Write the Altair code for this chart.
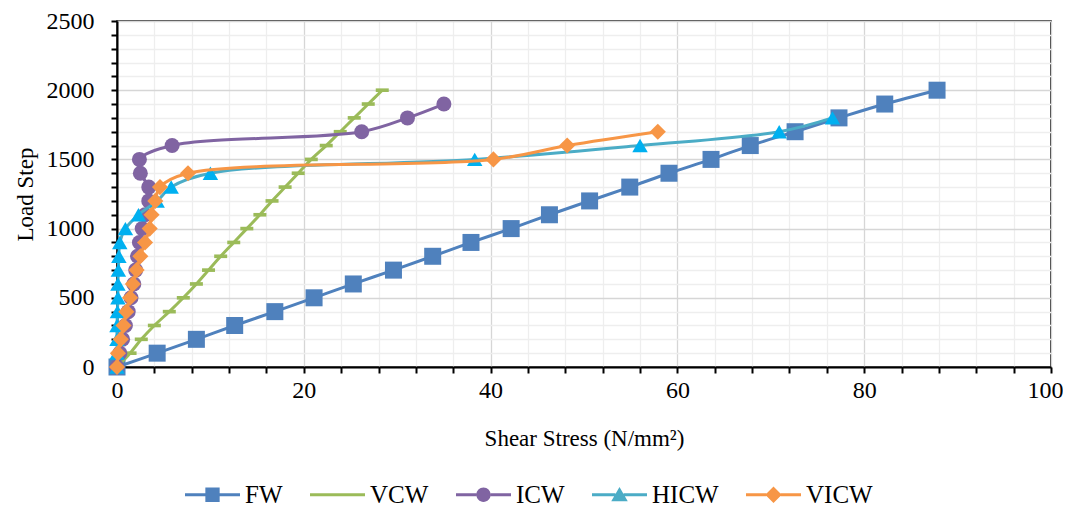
import altair as alt
import pandas as pd

# ---------------- data ----------------
series = ["FW", "VCW", "ICW", "HICW", "VICW"]
load_steps = [0, 100, 200, 300, 400, 500, 600, 700, 800, 900, 1000,
              1100, 1200, 1300, 1400, 1500, 1600, 1700, 1800, 1900, 2000]

fw = [0, 4.3, 8.5, 12.6, 16.9, 21.1, 25.3, 29.6, 33.8, 37.9, 42.2,
      46.3, 50.6, 54.9, 59.1, 63.6, 67.8, 72.6, 77.3, 82.2, 87.8]
vcw = [0, 1.4, 2.6, 4.0, 5.6, 7.1, 8.5, 9.8, 11.1, 12.5, 13.9,
       15.3, 16.6, 18.0, 19.4, 20.8, 22.4, 23.9, 25.4, 26.9, 28.4]
icw = [0, 0.3, 0.6, 0.9, 1.2, 1.5, 1.8, 2.0, 2.2, 2.4, 2.7,
       3.0, 3.4, 3.4, 2.5, 2.4, 5.9, 26.2, 31.1, 35.0]
hicw = [0, 0, 0, 0, 0.05, 0.1, 0.1, 0.15, 0.2, 0.3, 0.9,
        2.3, 4.3, 5.8, 10.0, 38.3, 56.0, 70.9, 76.6]
vicw = [0, 0.1, 0.4, 0.7, 1.0, 1.4, 1.7, 2.1, 2.5, 3.0, 3.5,
        3.7, 4.1, 4.6, 7.6, 40.3, 48.2, 57.9]

values = {"FW": fw, "VCW": vcw, "ICW": icw, "HICW": hicw, "VICW": vicw}

x_ticks = list(range(0, 101, 4))
y_ticks = list(range(0, 2501, 100))

# ---------------- styles ----------------
line_colors = ["#4F81BD", "#9BBB59", "#8064A2", "#4BACC6", "#F79646"]
marker_colors = ["#4F81BD", "#9BBB59", "#8064A2", "#00B0F0", "#F79646"]
marker_shapes = ["square", "M-1,-0.28H1V0.28H-1Z", "circle", "triangle-up", "diamond"]
marker_sizes = [289, 169, 225, 240, 260]

seg = "M-1,-0.055H-0.26V0.055H-1Z M0.26,-0.055H1V0.055H0.26Z "
legend_paths = [
    seg + "M-0.26,-0.26H0.26V0.26H-0.26Z",
    "M-1,-0.055H1V0.055H-1Z",
    seg + "M-0.26,0A0.26,0.26 0 1,1 0.26,0A0.26,0.26 0 1,1 -0.26,0Z",
    "M-1,-0.055H-0.15V0.055H-1Z M0.15,-0.055H1V0.055H0.15Z M0,-0.28L0.3,0.24L-0.3,0.24Z",
    seg + "M0,-0.3L0.3,0L0,0.3L-0.3,0Z",
]

rows = []
for s in series:
    for j, v in enumerate(values[s]):
        rows.append({"series": s, "stress": v, "load": load_steps[j]})
df = pd.DataFrame(rows)

FONT = "Liberation Serif"

x_enc = alt.X(
    "stress:Q",
    scale=alt.Scale(domain=[0, 100], nice=False, zero=True),
    axis=alt.Axis(
        values=x_ticks,
        format="d",
        title="Shear Stress (N/mm²)",
        labelExpr="datum.value % 20 === 0 ? datum.label : ''",
        labelOverlap=False,
        labelFlush=False,
        labelOffset={"condition": {"test": "datum.value === 100", "value": -6}, "value": 0},
        gridColor={"condition": {"test": "datum.value % 20 === 0", "value": "#d6d6d6"}, "value": "#eeeeee"},
        labelPadding=5,
        titlePadding=25,
    ),
)
y_enc = alt.Y(
    "load:Q",
    scale=alt.Scale(domain=[0, 2500], nice=False, zero=True),
    axis=alt.Axis(
        values=y_ticks,
        format="d",
        title="Load Step",
        labelExpr="datum.value % 500 === 0 ? datum.label : ''",
        labelOverlap=False,
        labelFlush=False,
        gridColor={"condition": {"test": "datum.value % 500 === 0", "value": "#d6d6d6"}, "value": "#eeeeee"},
        labelPadding=17,
        titlePadding=9,
    ),
)

base = alt.Chart(df).encode(x=x_enc, y=y_enc, order=alt.Order("load:Q"))

layers = []
for i, s in enumerate(series):
    sub = base.transform_filter(alt.datum.series == s)
    layers.append(sub.mark_line(color=line_colors[i], strokeWidth=3, interpolate="catmull-rom"))
    layers.append(sub.mark_point(filled=True, opacity=1, color=marker_colors[i],
                                 shape=marker_shapes[i], size=marker_sizes[i]))

leg = alt.Legend(
    orient="none", legendX=68, legendY=446, direction="horizontal", columns=5,
    title=None, symbolSize=3025, symbolStrokeWidth=0, symbolOpacity=1,
    labelFont=FONT, labelFontSize=25, labelColor="black", columnPadding=27,
    labelOffset=5,
)
legend_layer = base.transform_filter("false").mark_point(filled=True, opacity=1).encode(
    color=alt.Color("series:N", scale=alt.Scale(domain=series, range=line_colors), legend=leg),
    shape=alt.Shape("series:N", scale=alt.Scale(domain=series, range=legend_paths), legend=leg),
)
layers.append(legend_layer)

chart = alt.layer(*layers).properties(
    width=934, height=346,
    autosize=alt.AutoSizeParams(type="none"),
    padding={"left": 109, "top": 13, "right": 12, "bottom": 140},
).configure_view(
    stroke="black", strokeWidth=1.5
).configure_axis(
    labelFont=FONT, titleFont=FONT, labelFontSize=24, titleFontSize=23,
    labelColor="black", titleColor="black", titleFontWeight="normal",
    domainColor="black", domainWidth=2, tickColor="black", tickWidth=2, tickSize=6,
    gridWidth=1.3,
)

chart.save("out.html", embed_options={"renderer": "svg", "actions": False})
